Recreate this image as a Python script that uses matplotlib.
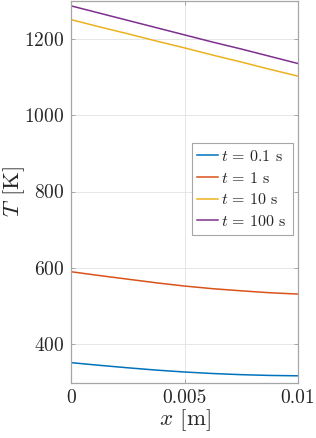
import matplotlib

matplotlib.use("Agg")
import matplotlib.pyplot as plt

# Temperature profiles
x_m = [0.0, 0.00125, 0.0025, 0.00375, 0.005, 0.00625, 0.0075, 0.00875, 0.01]
T_01s = [352, 345, 338.5, 332.5, 327.5, 323.5, 320.5, 318.5, 317.5]
T_1s = [590, 580, 570.5, 561, 552.5, 545.5, 540, 535, 531.5]
T_10s = [1250, 1231, 1213, 1194, 1176, 1157, 1139, 1120, 1102]
T_100s = [1286, 1267, 1248, 1229, 1210, 1191, 1173, 1154, 1135]
labels = [r"$t\,=\,0.1$ s", r"$t\,=\,1$ s", r"$t\,=\,10$ s", r"$t\,=\,100$ s"]
colors = ["#0072BD", "#D95319", "#EDB120", "#7E2F8E"]

plt.rcParams["font.family"] = "cmr10"
plt.rcParams["mathtext.fontset"] = "cm"
plt.rcParams["axes.unicode_minus"] = False
plt.rcParams["axes.formatter.use_mathtext"] = True

fig = plt.figure(figsize=(3.16, 4.38), dpi=100)
ax = fig.add_axes([71 / 316, 1 - 382.5 / 438, (298 - 71) / 316, 382 / 438])

for T, lab, c in zip([T_01s, T_1s, T_10s, T_100s], labels, colors):
    ax.plot(x_m, T, color=c, linewidth=1.1, label=lab)

ax.set_xlim(0, 0.01)
ax.set_ylim(300, 1300)
ax.set_xticks([0, 0.005, 0.01])
ax.set_xticklabels(["0", "0.005", "0.01"])
ax.set_yticks([400, 600, 800, 1000, 1200])

ax.grid(True, color="#e6e6e6", linewidth=0.7)
ax.set_axisbelow(True)
for sp in ax.spines.values():
    sp.set_color("#a6a6a6")
    sp.set_linewidth(0.9)
ax.tick_params(
    direction="in", length=3, width=0.7, color="#a6a6a6",
    top=True, right=True, labelsize=14, labelcolor="#262626", pad=5,
)

ax.set_xlabel(r"$x$ [m]", fontsize=16.5, color="#262626", labelpad=0)
ax.set_ylabel(r"$T$ [K]", fontsize=16.5, color="#262626")
ax.yaxis.set_label_coords((27 - 71) / 227, 0.5)

leg = ax.legend(
    loc="upper right",
    bbox_to_anchor=(292.5 / 316, 1 - 143.3 / 438),
    bbox_transform=fig.transFigure,
    borderaxespad=0,
    fontsize=11.5,
    fancybox=False,
    framealpha=1,
    edgecolor="#a6a6a6",
    handlelength=1.3,
    handletextpad=0.2,
    labelspacing=0.42,
    borderpad=0.35,
)
leg.get_frame().set_linewidth(0.8)
for t in leg.get_texts():
    t.set_color("#262626")

plt.savefig("out.png", dpi=100)
